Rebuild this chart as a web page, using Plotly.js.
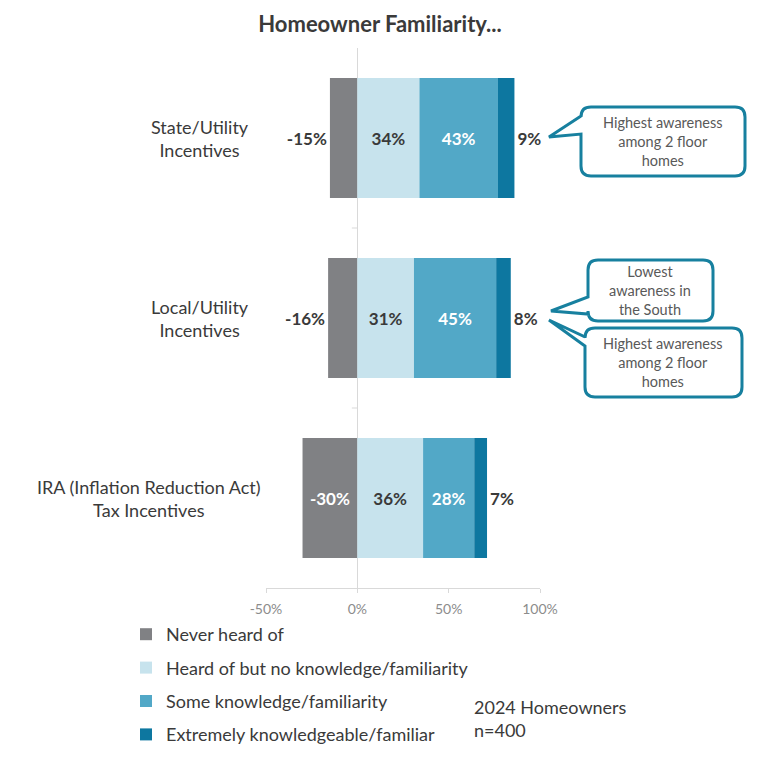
<!DOCTYPE html>
<html><head><meta charset="utf-8">
<script src="https://cdn.plot.ly/plotly-3.0.1.min.js"></script>
<style>html,body{margin:0;padding:0;background:#fff}#chart{width:770px;height:759px}</style>
</head><body><div id="chart"></div>
<script>
// ---------- DATA ----------
const categories = ['State/Utility Incentives', 'Local/Utility Incentives', 'IRA (Inflation Reduction Act) Tax Incentives'];
const categoryLabels = ['State/Utility<br>Incentives', 'Local/Utility<br>Incentives', 'IRA (Inflation Reduction Act)<br>Tax Incentives'];
const seriesNames = ['Never heard of', 'Heard of but no knowledge/familiarity', 'Some knowledge/familiarity', 'Extremely knowledgeable/familiar'];
const neverHeard = [-15, -16, -30];
const heardNoKnowledge = [34, 31, 36];
const someKnowledge = [43, 45, 28];
const extremelyKnowledgeable = [9, 8, 7];
const xTickValues = [-50, 0, 50, 100];
const chartTitle = 'Homeowner Familiarity...';
const calloutTexts = ['Highest awareness<br>among 2 floor<br>homes', 'Lowest<br>awareness in<br>the South', 'Highest awareness<br>among 2 floor<br>homes'];
const sampleNote = '2024 Homeowners<br>n=400';

// ---------- STYLE ----------
const FONT = 'Lato, "Open Sans", sans-serif';
const colors = ['#808184', '#c7e3ed', '#52a8c7', '#0d77a0'];
const dark = '#3a3a3a';
const teal = '#17809f';

const L = 266, T = 48, W = 274, H = 540;
const px = x => (x - L) / W;
const py = y => (T + H - y) / H;
const pt = (x, y) => px(x).toFixed(4) + ',' + py(y).toFixed(4);

function calloutPath(x0, y0, x1, y1, r, tY0, tY1, tipX, tipY) {
  return 'M' + pt(x0 + r, y0) + ' L' + pt(x1 - r, y0) + ' Q' + pt(x1, y0) + ' ' + pt(x1, y0 + r) +
    ' L' + pt(x1, y1 - r) + ' Q' + pt(x1, y1) + ' ' + pt(x1 - r, y1) +
    ' L' + pt(x0 + r, y1) + ' Q' + pt(x0, y1) + ' ' + pt(x0, y1 - r) +
    ' L' + pt(x0, tY1) + ' L' + pt(tipX, tipY) + ' L' + pt(x0, tY0) +
    ' L' + pt(x0, y0 + r) + ' Q' + pt(x0, y0) + ' ' + pt(x0 + r, y0) + ' Z';
}

const pct = v => v + '%';
const seriesValues = [neverHeard, heardNoKnowledge, someKnowledge, extremelyKnowledgeable];
const textPositions = [
  neverHeard.map(v => (v <= -25 ? 'inside' : 'outside')),
  'inside', 'inside', 'outside'
];
const insideColors = ['#ffffff', dark, '#ffffff', '#ffffff'];

const traces = seriesValues.map((vals, i) => ({
  type: 'bar', orientation: 'h', name: seriesNames[i], legendgroup: 'g' + i,
  y: categories, x: vals,
  text: vals.map(pct), textposition: textPositions[i], textangle: 0,
  insidetextanchor: 'middle', constraintext: 'none', cliponaxis: false,
  insidetextfont: {family: FONT, size: 17, color: insideColors[i], weight: 700},
  outsidetextfont: {family: FONT, size: 17, color: dark, weight: 700},
  marker: {color: colors[i], line: {width: 0}},
  hoverinfo: 'none'
}));

const shapes = [
  {type: 'path', xref: 'paper', yref: 'paper', path: calloutPath(581, 107, 745, 176, 10, 116, 134, 549, 137), fillcolor: '#fff', line: {color: teal, width: 3}},
  {type: 'path', xref: 'paper', yref: 'paper', path: calloutPath(588, 260, 713, 321, 10, 297, 314, 551, 311), fillcolor: '#fff', line: {color: teal, width: 3}},
  {type: 'path', xref: 'paper', yref: 'paper', path: calloutPath(585, 328, 742, 397, 10, 337, 346, 549, 320), fillcolor: '#fff', line: {color: teal, width: 3}}
];
// small category-separator ticks on the vertical zero axis
[0.5, 1.5].forEach(v => shapes.push({type: 'line', xref: 'x', yref: 'y', x0: -3, x1: 0, y0: v, y1: v, line: {color: '#d9d9d9', width: 1}, layer: 'below'}));

const labelCenters = [200, 200, 149];
const annotations = categoryLabels.map((t, i) => ({
  xref: 'paper', yref: 'y', x: px(labelCenters[i]), y: categories[i], text: t, showarrow: false,
  xanchor: 'center', yanchor: 'middle', align: 'center', font: {family: FONT, size: 18, color: dark}
}));
const calloutCenters = [[663, 141], [650, 290], [663, 362]];
calloutTexts.forEach((t, i) => annotations.push({
  xref: 'paper', yref: 'paper', x: px(calloutCenters[i][0]), y: py(calloutCenters[i][1]), text: t, showarrow: false,
  xanchor: 'center', yanchor: 'middle', align: 'center', font: {family: FONT, size: 14.5, color: '#595959'}
}));
annotations.push({
  xref: 'paper', yref: 'paper', x: px(472), y: py(719), text: sampleNote, showarrow: false,
  xanchor: 'left', yanchor: 'middle', align: 'left', font: {family: FONT, size: 18, color: dark}
});

const layout = {
  width: 770, height: 759,
  margin: {l: L, r: 770 - L - W, t: T, b: 759 - T - H, pad: 0, autoexpand: false},
  paper_bgcolor: '#fff', plot_bgcolor: '#fff',
  font: {family: FONT, color: dark},
  title: {text: chartTitle, x: 380 / 770, xref: 'container', xanchor: 'center', y: 1 - 24 / 759, yref: 'container', yanchor: 'middle',
    font: {family: FONT, size: 22, color: dark, weight: 700}, automargin: false},
  barmode: 'relative', bargap: 1 / 3,
  xaxis: {range: [-50, 100], tickvals: xTickValues, ticktext: xTickValues.map(pct), showgrid: false,
    zeroline: true, zerolinecolor: '#d9d9d9', zerolinewidth: 1, automargin: false,
    showline: true, linecolor: '#d9d9d9', linewidth: 1, ticks: 'outside', ticklen: 4, tickcolor: '#d9d9d9',
    ticklabelstandoff: 4, tickangle: 0, tickfont: {family: FONT, size: 14, color: '#8c8c8c'}, fixedrange: true},
  yaxis: {autorange: 'reversed', showticklabels: false, showgrid: false, zeroline: false, showline: false, ticks: '', fixedrange: true, automargin: false},
  showlegend: true,
  legend: {orientation: 'v', traceorder: 'grouped', tracegroupgap: 7, xref: 'container', yref: 'container',
    x: 126 / 770, y: 1 - 616 / 759, xanchor: 'left', yanchor: 'top', bgcolor: 'rgba(0,0,0,0)',
    font: {family: FONT, size: 18, color: dark}},
  shapes: shapes, annotations: annotations
};

Plotly.newPlot('chart', traces, layout, {displayModeBar: false, staticPlot: true});
</script>
</body></html>
